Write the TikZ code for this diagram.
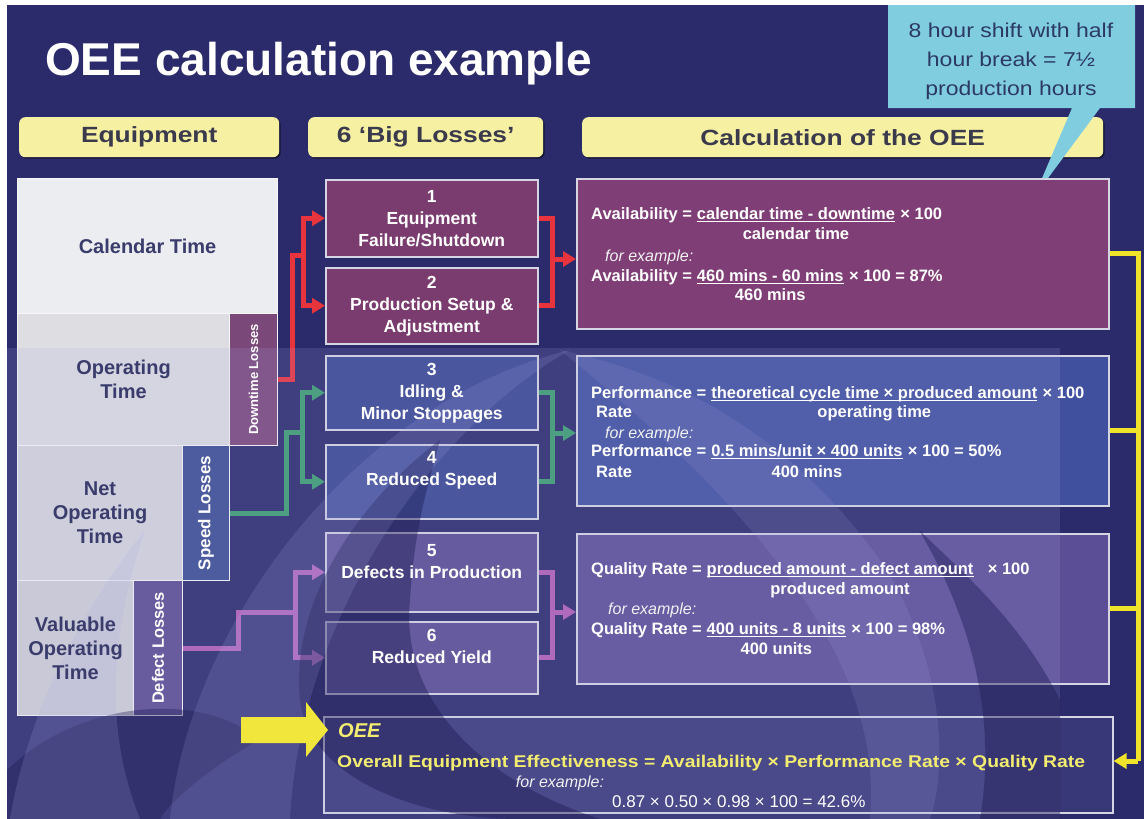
\documentclass[tikz,border=0pt]{standalone}
\usepackage{fontspec}
\usepackage{graphicx}
\setmainfont{Liberation Sans}
\usetikzlibrary{arrows.meta,shadows}

\definecolor{bgnavy}{RGB}{43,42,106}
\definecolor{deepnavy}{RGB}{26,25,80}
\definecolor{haze}{RGB}{170,170,232}
\definecolor{tabfill}{RGB}{246,240,162}
\definecolor{tabtext}{RGB}{58,58,76}
\definecolor{calloutfill}{RGB}{128,205,224}
\definecolor{callouttext}{RGB}{44,58,99}
\definecolor{eqtext}{RGB}{58,61,108}
\definecolor{calfill}{RGB}{236,237,241}
\definecolor{opfill}{RGB}{222,222,226}
\definecolor{netfill}{RGB}{214,214,219}
\definecolor{valfill}{RGB}{208,208,213}
\definecolor{downfill}{RGB}{123,72,122}
\definecolor{speedfill}{RGB}{60,78,145}
\definecolor{defectfill}{RGB}{92,76,145}
\definecolor{plum}{RGB}{122,59,110}
\definecolor{availfill}{RGB}{127,63,118}
\definecolor{bluefill}{RGB}{56,70,145}
\definecolor{perffill}{RGB}{64,80,158}
\definecolor{violetfill}{RGB}{90,76,146}
\definecolor{qualfill}{RGB}{92,78,150}
\definecolor{edge}{RGB}{214,214,226}
\definecolor{redlink}{RGB}{232,52,60}
\definecolor{greenlink}{RGB}{58,158,110}
\definecolor{purplelink}{RGB}{178,94,180}
\definecolor{yellowlink}{RGB}{240,228,42}
\definecolor{oeetext}{RGB}{242,236,112}

\begin{document}
\begin{tikzpicture}[x=1pt,y=-1pt,
  tab/.style={fill=tabfill, rounded corners=6pt, anchor=north west,
    minimum height=40pt, inner sep=0, text=tabtext,
    font=\fontsize{22}{26}\selectfont\bfseries,
    drop shadow={shadow xshift=1.5pt, shadow yshift=-1.5pt, opacity=0.45, fill=black}},
  eqbox/.style={draw=white!94!gray, line width=1pt, anchor=north west, inner sep=0},
  lossbox/.style={draw=edge, line width=1.5pt, anchor=north west, inner sep=0,
    minimum width=212pt},
  calcbox/.style={draw=edge, line width=1.5pt, anchor=north west, inner sep=0,
    minimum width=532pt, minimum height=150pt},
  eqtxt/.style={text=eqtext, font=\fontsize{20}{24}\selectfont\bfseries,
    align=center, inner sep=0},
  sidetxt/.style={text=white, rotate=90, inner sep=0},
  losstxt/.style={text=white, font=\fontsize{17.5}{22}\selectfont\bfseries,
    align=center, inner sep=0},
  calc/.style={text=white, font=\fontsize{16.5}{20}\selectfont\bfseries,
    anchor=base west, inner sep=0},
  calcit/.style={text=white!90!gray, font=\fontsize{16}{19}\selectfont\itshape,
    anchor=base west, inner sep=0},
  uline/.style={white, line width=1.3pt},
  link/.style={line width=5pt, line join=miter},
  tip/.style={-{Triangle[length=13pt,width=15pt]}}
]
\useasboundingbox (0,0) rectangle (1144,819);

% page and slide background
\fill[white] (0,0) rectangle (1144,819);
\fill[bgnavy] (7,5) rectangle (1144,819);

% title
\node[anchor=base west, inner sep=0, text=white,
  font=\fontsize{46}{50}\selectfont\bfseries] (title) at (45,75) {OEE calculation example};

% column headers
\node[tab, minimum width=260pt] (h1) at (19,117) {\scalebox{1.2}[1]{Equipment}};
\node[tab, minimum width=235pt] (h2) at (308,117) {\scalebox{1.2}[1]{6 ‘Big Losses’}};
\node[tab, minimum width=521pt] (h3) at (582,117) {\scalebox{1.2}[1]{Calculation of the OEE}};

% speech bubble
\fill[calloutfill] (888,5) -- (1135,5) -- (1135,108) -- (1100,108) -- (1034,197)
  -- (1072,108) -- (888,108) -- cycle;
\node[font=\fontsize{20}{29}\selectfont, text=callouttext, align=center, inner sep=0]
  (note) at (1011,61) {\scalebox{1.15}[1]{8 hour shift with half}\\
  \scalebox{1.15}[1]{hour break = 7½}\\ \scalebox{1.15}[1]{production hours}};

% equipment time blocks
\node[eqbox, fill=calfill, minimum width=260pt, minimum height=135pt] (ct) at (17,178) {};
\node[eqbox, fill=opfill, minimum width=212pt, minimum height=132pt] (ot) at (17,313) {};
\node[eqbox, fill=downfill, minimum width=48pt, minimum height=132pt] (dl) at (229,313) {};
\node[eqbox, fill=netfill, minimum width=165pt, minimum height=135pt] (nt) at (17,445) {};
\node[eqbox, fill=speedfill, minimum width=47pt, minimum height=135pt] (sl) at (182,445) {};
\node[eqbox, fill=valfill, minimum width=116pt, minimum height=135pt] (vt) at (17,580) {};
\node[eqbox, fill=defectfill, minimum width=49pt, minimum height=135pt] (dfl) at (133,580) {};

% six big losses
\node[lossbox, fill=plum, minimum height=77pt] (b1) at (325,179) {};
\node[lossbox, fill=plum, minimum height=76pt] (b2) at (325,267) {};
\node[lossbox, fill=bluefill, minimum height=74pt] (b3) at (325,355) {};
\node[lossbox, fill=bluefill, minimum height=74pt] (b4) at (325,444) {};
\node[lossbox, fill=violetfill, minimum height=79pt] (b5) at (325,532) {};
\node[lossbox, fill=violetfill, minimum height=72pt] (b6) at (325,621) {};

% calculation panels
\node[calcbox, fill=availfill] (av) at (576,178) {};
\node[calcbox, fill=perffill] (pf) at (576,355) {};
\node[calcbox, fill=qualfill] (ql) at (576,533) {};
\node[draw=edge, line width=1.5pt, anchor=north west, inner sep=0,
  minimum width=789pt, minimum height=96pt, fill=bgnavy!90!haze] (oee) at (323,716) {};

% downtime losses -> losses 1, 2 -> availability
\coordinate (rj) at (303,255);
\draw[link, redlink] (dl.east) -| (292,255) -- (rj);
\draw[link, redlink, tip] (rj) |- (b1.west);
\draw[link, redlink, tip] (rj) |- (b2.west);
\coordinate (ro) at (552,259);
\draw[link, redlink] (b1.east) -| (ro);
\draw[link, redlink] (b2.east) -| (ro);
\draw[link, redlink, tip] (ro) -- (av.west |- ro);

% speed losses -> losses 3, 4 -> performance
\coordinate (gj) at (302,432);
\draw[link, greenlink] (sl.east) -| (286,432) -- (gj);
\draw[link, greenlink, tip] (gj) |- (b3.west);
\draw[link, greenlink, tip] (gj) |- (b4.west);
\coordinate (go) at (552,433);
\draw[link, greenlink] (b3.east) -| (go);
\draw[link, greenlink] (b4.east) -| (go);
\draw[link, greenlink, tip] (go) -- (pf.west |- go);

% defect losses -> losses 5, 6 -> quality
\coordinate (pj) at (295,612);
\draw[link, purplelink] (dfl.east) -| (238,612) -- (pj);
\draw[link, purplelink, tip] (pj) |- (b5.west);
\draw[link, purplelink, tip] (pj) |- (b6.west);
\coordinate (po) at (552,612);
\draw[link, purplelink] (b5.east) -| (po);
\draw[link, purplelink] (b6.east) -| (po);
\draw[link, purplelink, tip] (po) -- (ql.west |- po);

% the three rates feed the OEE
\coordinate (yo) at (1138,761);
\draw[link, yellowlink] (av.east) -| (yo);
\draw[link, yellowlink] (pf.east) -- (pf.east -| yo);
\draw[link, yellowlink] (ql.east) -- (ql.east -| yo);
\draw[link, yellowlink, tip] (yo) -- (oee.east |- yo);

% translucent swirl watermark
\fill[haze, opacity=0.16] (7,348) rectangle (1060,819);
\fill[deepnavy, opacity=0.40] (440,440) .. controls (360,500) and (290,600) .. (300,700)
  .. controls (310,780) and (420,819) .. (520,819) -- (600,819)
  .. controls (480,780) and (400,700) .. (410,600)
  .. controls (415,520) and (430,480) .. (440,440) -- cycle;
\fill[deepnavy, opacity=0.40] (919,530) .. controls (960,600) and (1000,700) .. (980,819)
  -- (1060,819) -- (1060,700) .. controls (1020,620) and (960,570) .. (919,530) -- cycle;
\fill[deepnavy, opacity=0.35] (7,819) -- (7,770) .. controls (80,700) and (200,690) .. (260,740)
  .. controls (220,760) and (170,800) .. (160,819) -- cycle;
\fill[haze, opacity=0.18] (10,819) .. controls (30,700) and (90,600) .. (145,530)
  .. controls (115,620) and (100,720) .. (140,819) -- cycle;
\fill[haze, opacity=0.16] (170,819) .. controls (190,620) and (360,400) .. (570,350)
  .. controls (430,430) and (300,620) .. (290,819) -- cycle;
\fill[haze, opacity=0.14] (560,350) .. controls (700,380) and (800,450) .. (880,560)
  .. controls (940,650) and (950,760) .. (930,819) -- (870,819)
  .. controls (880,700) and (820,560) .. (560,350) -- cycle;

% big yellow pointer
\fill[yellowlink!92!white] (241,717) -- (306,717) -- (306,702) -- (328,730)
  -- (306,757) -- (306,743) -- (241,743) -- cycle;

% equipment labels
\node[eqtxt] (ctt) at (ct.center) {Calendar Time};
\node[eqtxt] (ott) at (ot.center) {Operating\\Time};
\node[eqtxt] (ntt) at (nt.center) {Net\\Operating\\Time};
\node[eqtxt] (vtt) at (vt.center) {Valuable\\Operating\\Time};
\node[sidetxt, font=\fontsize{13}{15}\selectfont\bfseries] (dlt) at (dl.center) {Downtime Losses};
\node[sidetxt, font=\fontsize{17}{19}\selectfont\bfseries] (slt) at (sl.center) {Speed Losses};
\node[sidetxt, font=\fontsize{16.5}{19}\selectfont\bfseries] (dft) at (dfl.center) {Defect Losses};

% loss labels
\node[losstxt] (t1) at (b1.center) {1\\Equipment\\Failure/Shutdown};
\node[losstxt] (t2) at (b2.center) {2\\Production Setup \&\\Adjustment};
\node[losstxt] (t3) at (b3.center) {3\\Idling \&\\Minor Stoppages};
\node[losstxt] (t4) at ([yshift=11pt]b4.center) {4\\Reduced Speed};
\node[losstxt] (t5) at ([yshift=11pt]b5.center) {5\\Defects in Production};
\node[losstxt] (t6) at ([yshift=11pt]b6.center) {6\\Reduced Yield};

% availability
\node[calc] (a1) at (591,219) {Availability =\kern4.6pt};
\node[calc] (a1n) at (a1.base east) {calendar time - downtime};
\draw[uline] ([yshift=-2.5pt]a1n.base west) -- ([yshift=-2.5pt]a1n.base east);
\node[calc] (a1x) at ([xshift=5pt]a1n.base east) {× 100};
\node[calc, anchor=base] (a1d) at ([yshift=-20pt]a1n.base) {calendar time};
\node[calcit] (a1e) at (605,261) {for example:};
\node[calc] (a2) at (591,281) {Availability =\kern4.6pt};
\node[calc] (a2n) at (a2.base east) {460 mins - 60 mins};
\draw[uline] ([yshift=-2.5pt]a2n.base west) -- ([yshift=-2.5pt]a2n.base east);
\node[calc] (a2x) at ([xshift=5pt]a2n.base east) {× 100 = 87\%};
\node[calc, anchor=base] (a2d) at ([yshift=-19pt]a2n.base) {460 mins};

% performance rate
\node[calc] (p1) at (591,398) {Performance =\kern4.6pt};
\node[calc] (p1n) at (p1.base east) {theoretical cycle time × produced amount};
\draw[uline] ([yshift=-2.5pt]p1n.base west) -- ([yshift=-2.5pt]p1n.base east);
\node[calc] (p1x) at ([xshift=5pt]p1n.base east) {× 100};
\node[calc] (p1r) at (596,417) {Rate};
\node[calc, anchor=base] (p1d) at ([yshift=-19pt]p1n.base) {operating time};
\node[calcit] (p1e) at (605,438) {for example:};
\node[calc] (p2) at (591,456) {Performance =\kern4.6pt};
\node[calc] (p2n) at (p2.base east) {0.5 mins/unit × 400 units};
\draw[uline] ([yshift=-2.5pt]p2n.base west) -- ([yshift=-2.5pt]p2n.base east);
\node[calc] (p2x) at ([xshift=5pt]p2n.base east) {× 100 = 50\%};
\node[calc] (p2r) at (596,477) {Rate};
\node[calc, anchor=base] (p2d) at ([yshift=-21pt]p2n.base) {400 mins};

% quality rate
\node[calc] (q1) at (591,574) {Quality Rate =\kern4.6pt};
\node[calc] (q1n) at (q1.base east) {produced amount - defect amount};
\draw[uline] ([yshift=-2.5pt]q1n.base west) -- ([yshift=-2.5pt]q1n.base east);
\node[calc] (q1x) at ([xshift=14pt]q1n.base east) {× 100};
\node[calc, anchor=base] (q1d) at ([yshift=-20pt]q1n.base) {produced amount};
\node[calcit] (q1e) at (608,614) {for example:};
\node[calc] (q2) at (591,634) {Quality Rate =\kern4.6pt};
\node[calc] (q2n) at (q2.base east) {400 units - 8 units};
\draw[uline] ([yshift=-2.5pt]q2n.base west) -- ([yshift=-2.5pt]q2n.base east);
\node[calc] (q2x) at ([xshift=5pt]q2n.base east) {× 100 = 98\%};
\node[calc, anchor=base] (q2d) at ([yshift=-20pt]q2n.base) {400 units};

% overall equipment effectiveness
\node[anchor=base west, inner sep=0, text=oeetext,
  font=\fontsize{20}{24}\selectfont\bfseries\itshape] (oeeh) at (338,737) {OEE};
\node[anchor=base west, inner sep=0, text=oeetext,
  font=\fontsize{17}{20}\selectfont\bfseries] (oeel) at (337,767)
  {\resizebox{748pt}{\height}{Overall Equipment Effectiveness = Availability × Performance Rate × Quality Rate}};
\node[calcit, anchor=base] (oeee) at (560,787) {for example:};
\node[anchor=base west, inner sep=0, text=white,
  font=\fontsize{17}{20}\selectfont] (oeer) at (612,807) {0.87 × 0.50 × 0.98 × 100 = 42.6\%};
\end{tikzpicture}
\end{document}
